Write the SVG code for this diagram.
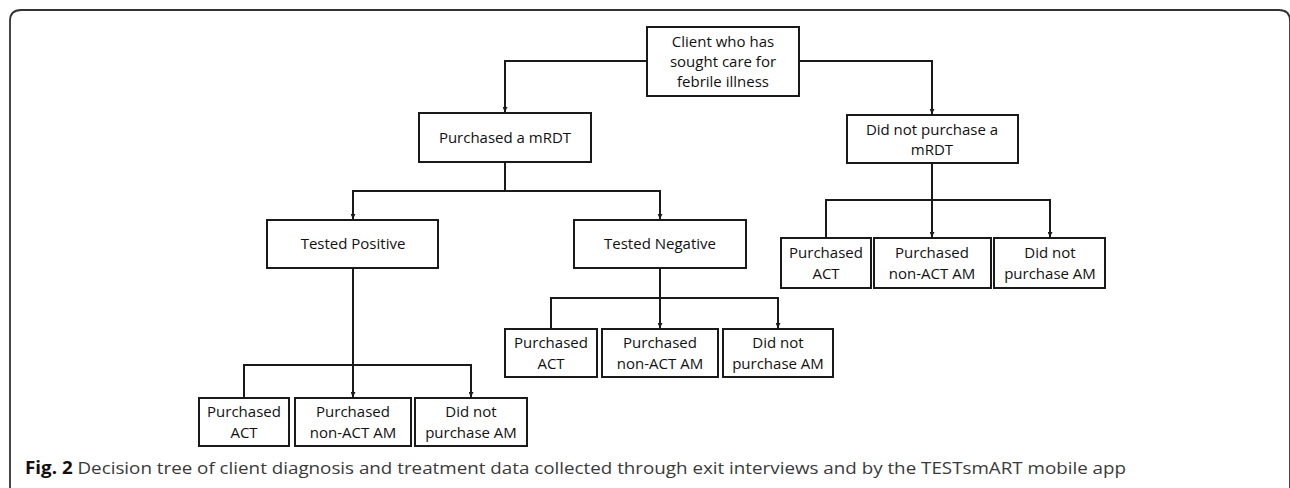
<svg xmlns="http://www.w3.org/2000/svg" width="1290" height="488" viewBox="0 0 1290 488">
<defs>
<style>
.box{fill:#fff;stroke:#1a1a1a;stroke-width:2}
.t{font-family:"Open Sans","Liberation Sans",sans-serif;font-size:15px;fill:#111;text-anchor:middle}
.c{fill:none;stroke:#1a1a1a;stroke-width:2}
.cap{font-family:"Open Sans","Liberation Sans",sans-serif;font-size:17px;fill:#3a3a3a}
</style>
<marker id="ah" markerWidth="6" markerHeight="5" refX="5" refY="2.5" orient="auto" markerUnits="userSpaceOnUse">
<path d="M0,0 L5,2.5 L0,5 Z" fill="#1a1a1a"/>
</marker>
</defs>
<rect width="1290" height="488" fill="#fff"/>
<path d="M10,490 V21 Q10,10 21,10 H1279 Q1290,10 1290,21 V490" fill="none" stroke="#333" stroke-width="1.8"/>

<g id="connectors">
<path class="c" d="M647,61 H505 V112" marker-end="url(#ah)"/>
<path class="c" d="M799,61 H932 V114" marker-end="url(#ah)"/>
<path class="c" d="M505,162 V191"/>
<path class="c" d="M353,219 V191 H660 V219" marker-end="url(#ah)"/>
<path class="c" d="M353,191 V219" marker-end="url(#ah)"/>
<path class="c" d="M353,268 V397" marker-end="url(#ah)"/>
<path class="c" d="M244,397 V365 H471 V397" marker-end="url(#ah)"/>
<path class="c" d="M660,268 V328" marker-end="url(#ah)"/>
<path class="c" d="M551,328 V298 H778 V328" marker-end="url(#ah)"/>
<path class="c" d="M932,163 V237" marker-end="url(#ah)"/>
<path class="c" d="M826,237 V200 H1050 V237" marker-end="url(#ah)"/>
</g>

<g id="root">
<rect class="box" x="647" y="27" width="152" height="69"/>
<text class="t" x="723" y="47">Client who has</text>
<text class="t" x="723" y="67">sought care for</text>
<text class="t" x="723" y="87">febrile illness</text>
</g>
<g id="purchased-mrdt">
<rect class="box" x="419" y="113" width="172" height="49"/>
<text class="t" x="505" y="143">Purchased a mRDT</text>
</g>
<g id="no-mrdt">
<rect class="box" x="847" y="115" width="171" height="48"/>
<text class="t" x="932" y="135">Did not purchase a</text>
<text class="t" x="932" y="155">mRDT</text>
</g>
<g id="tested-positive">
<rect class="box" x="267" y="220" width="171" height="48"/>
<text class="t" x="353" y="249">Tested Positive</text>
</g>
<g id="tested-negative">
<rect class="box" x="574" y="220" width="172" height="48"/>
<text class="t" x="660" y="249">Tested Negative</text>
</g>

<g id="pos-act">
<rect class="box" x="199" y="398" width="90" height="48"/>
<text class="t" x="244" y="417">Purchased</text>
<text class="t" x="244" y="438">ACT</text>
</g>
<g id="pos-nonact">
<rect class="box" x="295" y="398" width="116" height="48"/>
<text class="t" x="353" y="417">Purchased</text>
<text class="t" x="353" y="438">non-ACT AM</text>
</g>
<g id="pos-none">
<rect class="box" x="415" y="398" width="112" height="48"/>
<text class="t" x="471" y="417">Did not</text>
<text class="t" x="471" y="438">purchase AM</text>
</g>

<g id="neg-act">
<rect class="box" x="505" y="329" width="92" height="48"/>
<text class="t" x="551" y="348">Purchased</text>
<text class="t" x="551" y="369">ACT</text>
</g>
<g id="neg-nonact">
<rect class="box" x="602" y="329" width="116" height="48"/>
<text class="t" x="660" y="348">Purchased</text>
<text class="t" x="660" y="369">non-ACT AM</text>
</g>
<g id="neg-none">
<rect class="box" x="723" y="329" width="110" height="48"/>
<text class="t" x="778" y="348">Did not</text>
<text class="t" x="778" y="369">purchase AM</text>
</g>

<g id="nomrdt-act">
<rect class="box" x="781" y="238" width="90" height="50"/>
<text class="t" x="826" y="258">Purchased</text>
<text class="t" x="826" y="279">ACT</text>
</g>
<g id="nomrdt-nonact">
<rect class="box" x="874" y="238" width="117" height="50"/>
<text class="t" x="932" y="258">Purchased</text>
<text class="t" x="932" y="279">non-ACT AM</text>
</g>
<g id="nomrdt-none">
<rect class="box" x="994" y="238" width="111" height="50"/>
<text class="t" x="1050" y="258">Did not</text>
<text class="t" x="1050" y="279">purchase AM</text>
</g>

<text class="cap" x="25" y="474" textLength="1101" lengthAdjust="spacingAndGlyphs"><tspan font-weight="bold" fill="#111">Fig. 2</tspan> Decision tree of client diagnosis and treatment data collected through exit interviews and by the TESTsmART mobile app</text>
</svg>
